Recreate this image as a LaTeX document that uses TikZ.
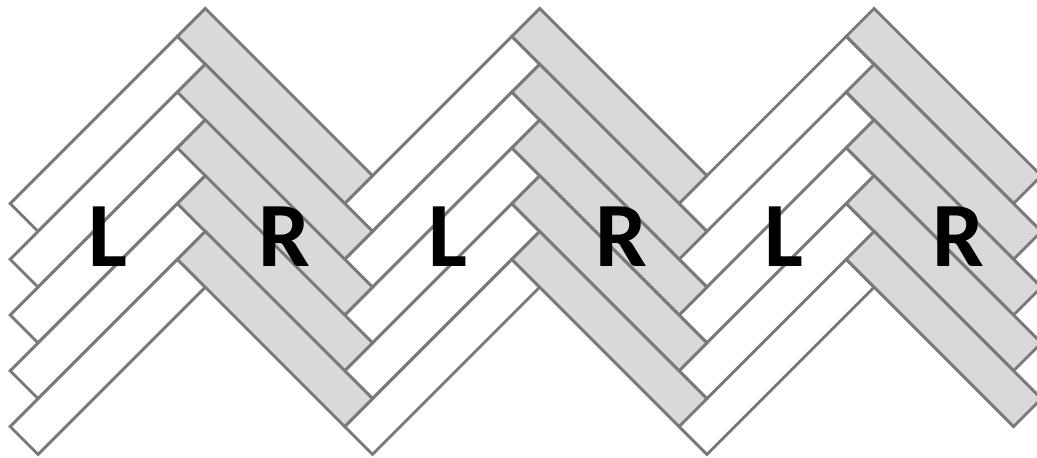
\documentclass[tikz,border=0pt]{standalone}
\usepackage{fontspec}
\newfontfamily\labfont{Carlito}
\definecolor{plankline}{RGB}{122,122,122}
\definecolor{plankgray}{RGB}{217,217,217}
\begin{document}
\begin{tikzpicture}[x=1pt,y=1pt,
  plank/.style={draw=plankline,line width=2.9pt,line join=miter},
  whiteplank/.style={plank,fill=white},
  grayplank/.style={plank,fill=plankgray},
  letter/.style={anchor=base,inner sep=0pt,font=\labfont\bfseries\fontsize{92}{92}\selectfont}]
\useasboundingbox (0,0) rectangle (1037,458);
\begin{scope}
\clip (0,0) rectangle (1037,458);
\def\a{27.87}
\def\per{334.44}
\foreach \c in {0,...,2}{
  \foreach \k in {0,...,4}{
    \draw[whiteplank] ({10.21+\c*\per},{254.41-2*\a*\k}) -- ++({6*\a},{6*\a}) -- ++({\a},{-\a}) -- ++({-6*\a},{-6*\a}) -- cycle;
  }
}
\foreach \c in {0,...,2}{
  \foreach \k in {0,...,4}{
    \draw[grayplank] ({205.3+\c*\per},{449.5-2*\a*\k}) -- ++({6*\a},{-6*\a}) -- ++({-\a},{-\a}) -- ++({-6*\a},{6*\a}) -- cycle;
  }
}
\end{scope}
\node[letter] (l1) at (108,191) {L};
\node[letter] (r1) at (284,191) {R};
\node[letter] (l2) at (448,191) {L};
\node[letter] (r2) at (621.5,191) {R};
\node[letter] (l3) at (784,191) {L};
\node[letter] (r3) at (958.5,191) {R};
\end{tikzpicture}
\end{document}
